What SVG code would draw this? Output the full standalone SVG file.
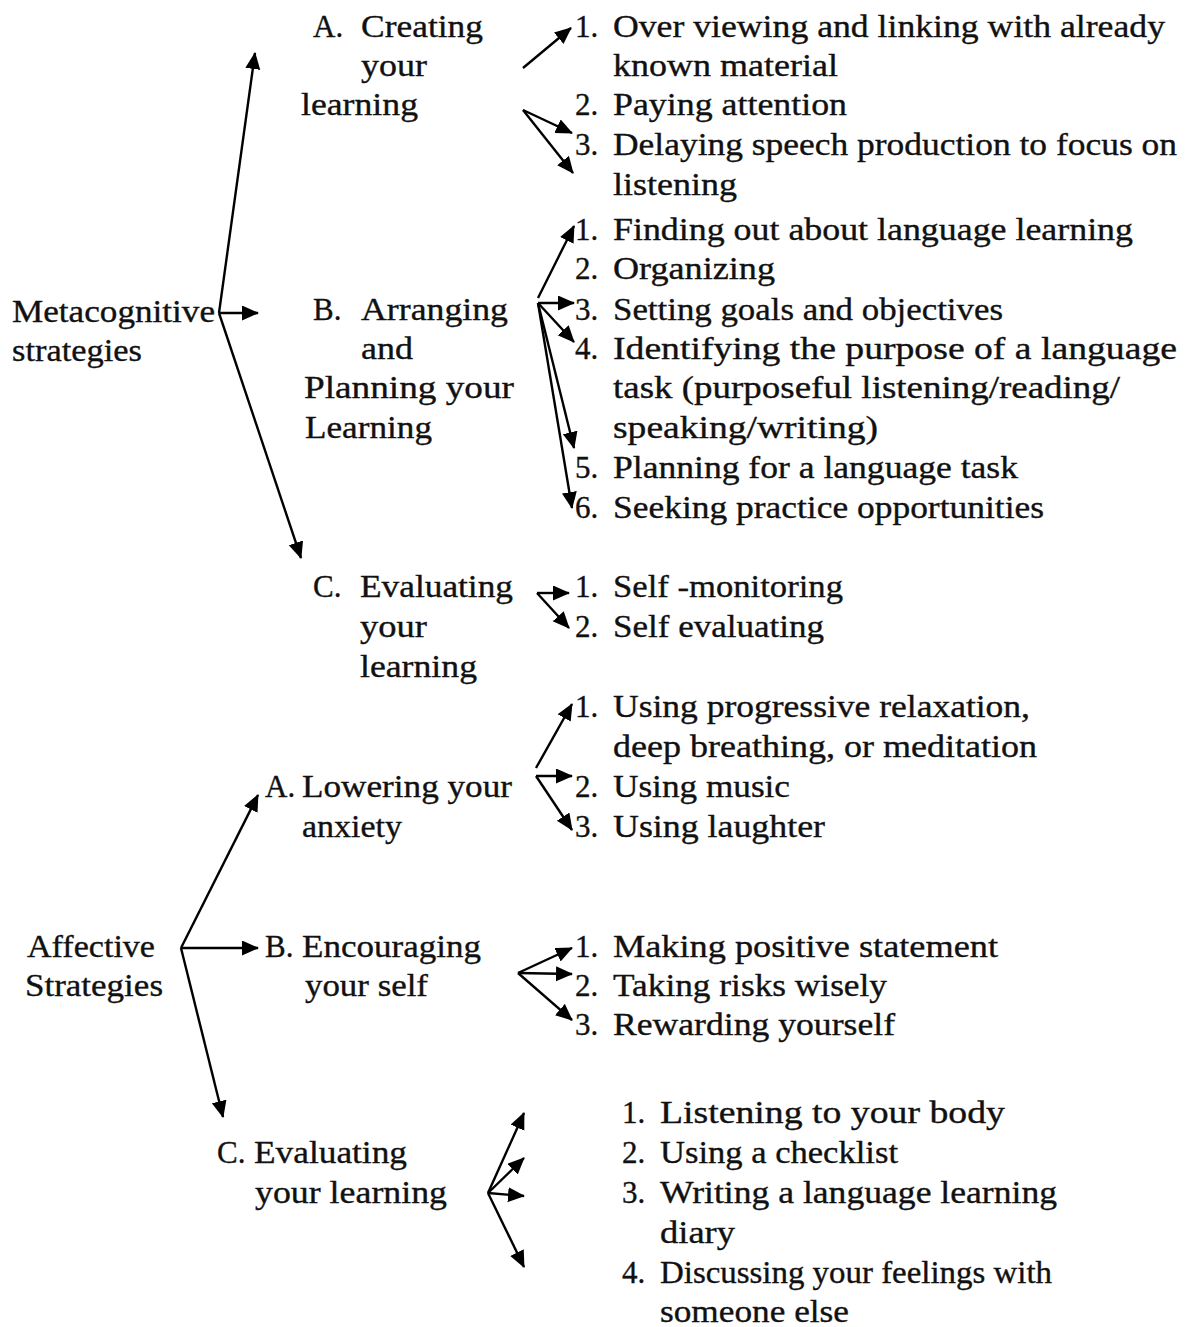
<svg xmlns="http://www.w3.org/2000/svg" width="1195" height="1327" viewBox="0 0 1195 1327">
<defs>
<style>
text{font-family:"Liberation Serif","Times New Roman",Times,serif;font-size:31px;fill:#111;stroke:#111;stroke-width:0.35}
.c line{stroke:#000;stroke-width:2.4;fill:none}
.a{marker-end:url(#ah)}
</style>
<marker id="ah" markerUnits="userSpaceOnUse" markerWidth="18" markerHeight="16" refX="16" refY="7.5" orient="auto" viewBox="0 0 18 16">
<path d="M0,0 L17,7.5 L0,15 z" fill="#000"/>
</marker>
</defs>
<rect width="1195" height="1327" fill="#fff"/>

<g id="metacognitive">
<text x="12" y="322" textLength="203" lengthAdjust="spacingAndGlyphs">Metacognitive</text>
<text x="12" y="361" textLength="130" lengthAdjust="spacingAndGlyphs">strategies</text>
</g>

<g id="m-a">
<text x="313" y="37">A.</text>
<text x="361" y="37" textLength="122" lengthAdjust="spacingAndGlyphs">Creating</text>
<text x="361" y="76" textLength="66" lengthAdjust="spacingAndGlyphs">your</text>
<text x="301" y="115" textLength="117" lengthAdjust="spacingAndGlyphs">learning</text>
</g>

<g id="m-a-items">
<text x="575" y="37">1.</text>
<text x="613" y="37" textLength="552" lengthAdjust="spacingAndGlyphs">Over viewing and linking with already</text>
<text x="613" y="76" textLength="225" lengthAdjust="spacingAndGlyphs">known material</text>
<text x="575" y="115">2.</text>
<text x="613" y="115" textLength="234" lengthAdjust="spacingAndGlyphs">Paying attention</text>
<text x="575" y="155">3.</text>
<text x="613" y="155" textLength="564" lengthAdjust="spacingAndGlyphs">Delaying speech production to focus on</text>
<text x="613" y="195" textLength="124" lengthAdjust="spacingAndGlyphs">listening</text>
</g>

<g id="m-b">
<text x="313" y="320">B.</text>
<text x="361" y="320" textLength="147" lengthAdjust="spacingAndGlyphs">Arranging</text>
<text x="361" y="359" textLength="52" lengthAdjust="spacingAndGlyphs">and</text>
<text x="304" y="398" textLength="210" lengthAdjust="spacingAndGlyphs">Planning  your</text>
<text x="305" y="438" textLength="127" lengthAdjust="spacingAndGlyphs">Learning</text>
</g>

<g id="m-b-items">
<text x="575" y="240">1.</text>
<text x="613" y="240" textLength="520" lengthAdjust="spacingAndGlyphs">Finding out about language learning</text>
<text x="575" y="279">2.</text>
<text x="613" y="279" textLength="162" lengthAdjust="spacingAndGlyphs">Organizing</text>
<text x="575" y="320">3.</text>
<text x="613" y="320" textLength="390" lengthAdjust="spacingAndGlyphs">Setting goals and objectives</text>
<text x="575" y="359">4.</text>
<text x="613" y="359" textLength="564" lengthAdjust="spacingAndGlyphs">Identifying the purpose of a language</text>
<text x="613" y="398" textLength="507" lengthAdjust="spacingAndGlyphs">task (purposeful listening/reading/</text>
<text x="613" y="438" textLength="265" lengthAdjust="spacingAndGlyphs">speaking/writing)</text>
<text x="575" y="478">5.</text>
<text x="613" y="478" textLength="405" lengthAdjust="spacingAndGlyphs">Planning for a language task</text>
<text x="575" y="518">6.</text>
<text x="613" y="518" textLength="431" lengthAdjust="spacingAndGlyphs">Seeking practice opportunities</text>
</g>

<g id="m-c">
<text x="313" y="597">C.</text>
<text x="360" y="597" textLength="153" lengthAdjust="spacingAndGlyphs">Evaluating</text>
<text x="360" y="637" textLength="67" lengthAdjust="spacingAndGlyphs">your</text>
<text x="360" y="677" textLength="117" lengthAdjust="spacingAndGlyphs">learning</text>
</g>

<g id="m-c-items">
<text x="575" y="597">1.</text>
<text x="613" y="597" textLength="230" lengthAdjust="spacingAndGlyphs">Self -monitoring</text>
<text x="575" y="637">2.</text>
<text x="613" y="637" textLength="211" lengthAdjust="spacingAndGlyphs">Self evaluating</text>
</g>

<g id="affective">
<text x="27" y="957" textLength="128" lengthAdjust="spacingAndGlyphs">Affective</text>
<text x="25" y="996" textLength="138" lengthAdjust="spacingAndGlyphs">Strategies</text>
</g>

<g id="a-a">
<text x="265" y="797">A.</text>
<text x="302" y="797" textLength="210" lengthAdjust="spacingAndGlyphs">Lowering your</text>
<text x="302" y="837" textLength="100" lengthAdjust="spacingAndGlyphs">anxiety</text>
</g>

<g id="a-a-items">
<text x="575" y="717">1.</text>
<text x="613" y="717" textLength="417" lengthAdjust="spacingAndGlyphs">Using progressive relaxation,</text>
<text x="613" y="757" textLength="424" lengthAdjust="spacingAndGlyphs">deep breathing, or meditation</text>
<text x="575" y="797">2.</text>
<text x="613" y="797" textLength="177" lengthAdjust="spacingAndGlyphs">Using music</text>
<text x="575" y="837">3.</text>
<text x="613" y="837" textLength="212" lengthAdjust="spacingAndGlyphs">Using laughter</text>
</g>

<g id="a-b">
<text x="265" y="957">B.</text>
<text x="302" y="957" textLength="179" lengthAdjust="spacingAndGlyphs">Encouraging</text>
<text x="305" y="996" textLength="123" lengthAdjust="spacingAndGlyphs">your self</text>
</g>

<g id="a-b-items">
<text x="575" y="957">1.</text>
<text x="613" y="957" textLength="385" lengthAdjust="spacingAndGlyphs">Making  positive statement</text>
<text x="575" y="996">2.</text>
<text x="613" y="996" textLength="274" lengthAdjust="spacingAndGlyphs">Taking risks wisely</text>
<text x="575" y="1035">3.</text>
<text x="613" y="1035" textLength="282" lengthAdjust="spacingAndGlyphs">Rewarding yourself</text>
</g>

<g id="a-c">
<text x="217" y="1163">C.</text>
<text x="254" y="1163" textLength="153" lengthAdjust="spacingAndGlyphs">Evaluating</text>
<text x="255" y="1203" textLength="192" lengthAdjust="spacingAndGlyphs">your learning</text>
</g>

<g id="a-c-items">
<text x="622" y="1123">1.</text>
<text x="660" y="1123" textLength="345" lengthAdjust="spacingAndGlyphs">Listening to your body</text>
<text x="622" y="1163">2.</text>
<text x="660" y="1163" textLength="238" lengthAdjust="spacingAndGlyphs">Using a checklist</text>
<text x="622" y="1203">3.</text>
<text x="660" y="1203" textLength="397" lengthAdjust="spacingAndGlyphs">Writing a language learning</text>
<text x="660" y="1243" textLength="75" lengthAdjust="spacingAndGlyphs">diary</text>
<text x="622" y="1283">4.</text>
<text x="660" y="1283" textLength="392" lengthAdjust="spacingAndGlyphs">Discussing your feelings with</text>
<text x="660" y="1322" textLength="189" lengthAdjust="spacingAndGlyphs">someone else</text>
</g>

<g id="connectors" class="c">
<!-- Metacognitive -->
<line class="a" x1="219" y1="313" x2="255" y2="53"/>
<line class="a" x1="219" y1="313" x2="258" y2="313"/>
<line class="a" x1="219" y1="313" x2="301" y2="558"/>
<!-- Creating -->
<line class="a" x1="523" y1="68" x2="571" y2="28"/>
<line class="a" x1="523" y1="110" x2="572" y2="133"/>
<line class="a" x1="523" y1="110" x2="573" y2="173"/>
<!-- Arranging -->
<line class="a" x1="538" y1="298" x2="574" y2="226"/>
<line class="a" x1="538" y1="303" x2="574" y2="303"/>
<line class="a" x1="538" y1="303" x2="574" y2="342"/>
<line class="a" x1="538" y1="303" x2="574" y2="448"/>
<line class="a" x1="538" y1="303" x2="572" y2="508"/>
<!-- Evaluating (metacognitive) -->
<line class="a" x1="537" y1="593" x2="569" y2="593"/>
<line class="a" x1="537" y1="593" x2="569" y2="628"/>
<!-- Affective -->
<line class="a" x1="181" y1="948" x2="258" y2="795"/>
<line class="a" x1="181" y1="948" x2="258" y2="948"/>
<line class="a" x1="181" y1="948" x2="223" y2="1117"/>
<!-- Lowering -->
<line class="a" x1="536" y1="768" x2="572" y2="704"/>
<line class="a" x1="536" y1="776" x2="572" y2="776"/>
<line class="a" x1="536" y1="776" x2="572" y2="830"/>
<!-- Encouraging -->
<line class="a" x1="518" y1="973" x2="572" y2="948"/>
<line class="a" x1="518" y1="973" x2="572" y2="974"/>
<line class="a" x1="518" y1="973" x2="572" y2="1020"/>
<!-- Evaluating (affective) -->
<line class="a" x1="488" y1="1193" x2="524" y2="1113"/>
<line class="a" x1="488" y1="1193" x2="524" y2="1158"/>
<line class="a" x1="488" y1="1193" x2="524" y2="1196"/>
<line class="a" x1="488" y1="1193" x2="524" y2="1267"/>
</g>
</svg>
